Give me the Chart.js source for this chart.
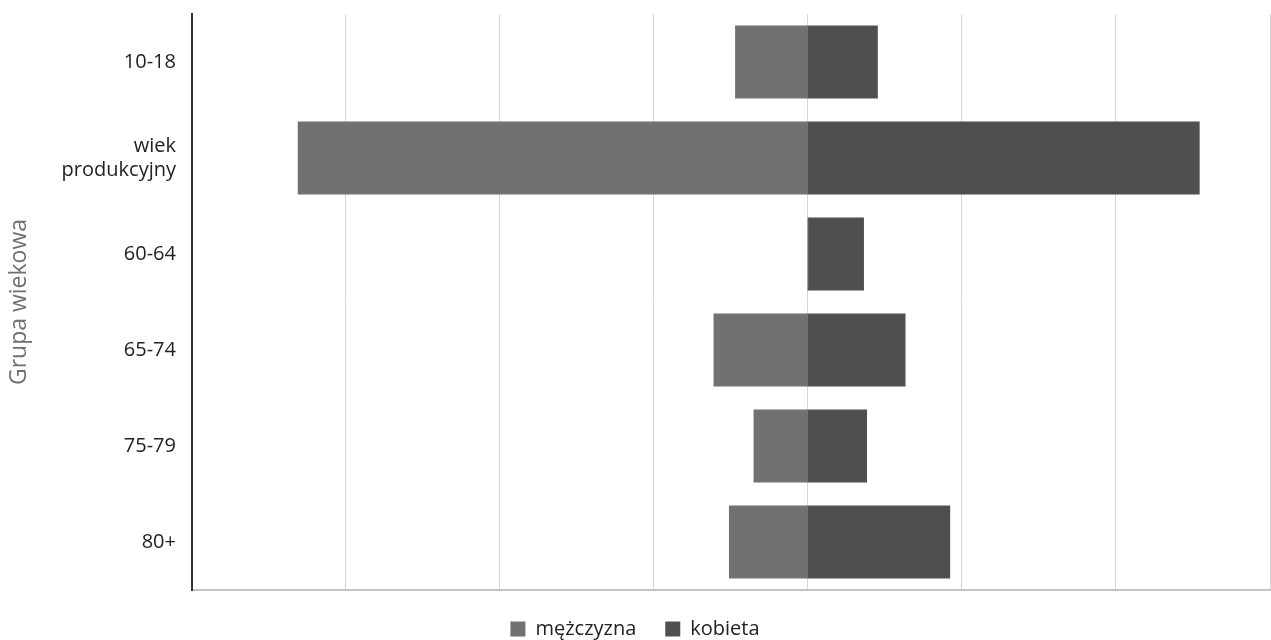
<!DOCTYPE html>
<html>
<head>
<meta charset="utf-8">
<script src="https://cdn.jsdelivr.net/npm/chart.js@4"></script>
<style>
    html, body { margin: 0; padding: 0; background: #fff; }
    #wrap { width: 1271px; height: 640px; }
</style>
</head>
<body>
<div id="wrap"><canvas id="pyramid"></canvas></div>
<script>
const ageGroups = ['10-18', ['wiek', 'produkcyjny'], '60-64', '65-74', '75-79', '80+']
// men go to the left, so their values are negative
const men = [-4.7, -33.1, 0, -6.1, -3.5, -5.1]
const women = [4.5, 25.4, 3.6, 6.3, 3.8, 9.2]
const seriesNames = ['mężczyzna', 'kobieta']

const font = 'Open Sans'

let ctx = document.querySelector('#pyramid').getContext('2d')

let chart = new Chart(ctx, {
    type: 'bar',
    data: {
        labels: ageGroups,
        datasets: [
            {
                label: seriesNames[0],
                data: men,
                backgroundColor: '#707171',
                borderWidth: 0,
                inflateAmount: 0.5
            },
            {
                label: seriesNames[1],
                data: women,
                backgroundColor: '#4e5050',
                borderWidth: 0,
                inflateAmount: 0.5
            }
        ]
    },
    options: {
        indexAxis: 'y',
        responsive: true,
        maintainAspectRatio: false,
        animation: false,
        layout: {
            padding: { top: 14, right: 1, left: 0, bottom: -9 }
        },
        datasets: {
            bar: { categoryPercentage: 0.75, barPercentage: 1 }
        },
        scales: {
            x: {
                stacked: true,
                min: -40,
                max: 30,
                ticks: { display: false, stepSize: 10 },
                grid: {
                    color: '#d6d6d6',
                    lineWidth: 1,
                    drawTicks: false
                },
                border: { display: true, color: '#c4c4c4', width: 2 }
            },
            y: {
                stacked: true,
                ticks: {
                    color: '#222',
                    padding: 0,
                    font: { family: font, size: 20 }
                },
                // tick marks kept invisible, only used as the gap before the labels
                grid: {
                    color: 'rgba(0,0,0,0)',
                    drawTicks: true,
                    tickLength: 16,
                    tickColor: 'rgba(0,0,0,0)'
                },
                border: { display: true, color: '#333', width: 2 },
                title: {
                    display: true,
                    text: 'Grupa wiekowa',
                    color: '#707070',
                    font: { family: font, size: 23 },
                    padding: { top: 6, bottom: 28 }
                }
            }
        },
        plugins: {
            legend: {
                position: 'bottom',
                labels: {
                    boxWidth: 15,
                    boxHeight: 15,
                    padding: 29,
                    color: '#222',
                    font: { family: font, size: 20 }
                }
            },
            tooltip: { enabled: false }
        }
    }
})
</script>
</body>
</html>
